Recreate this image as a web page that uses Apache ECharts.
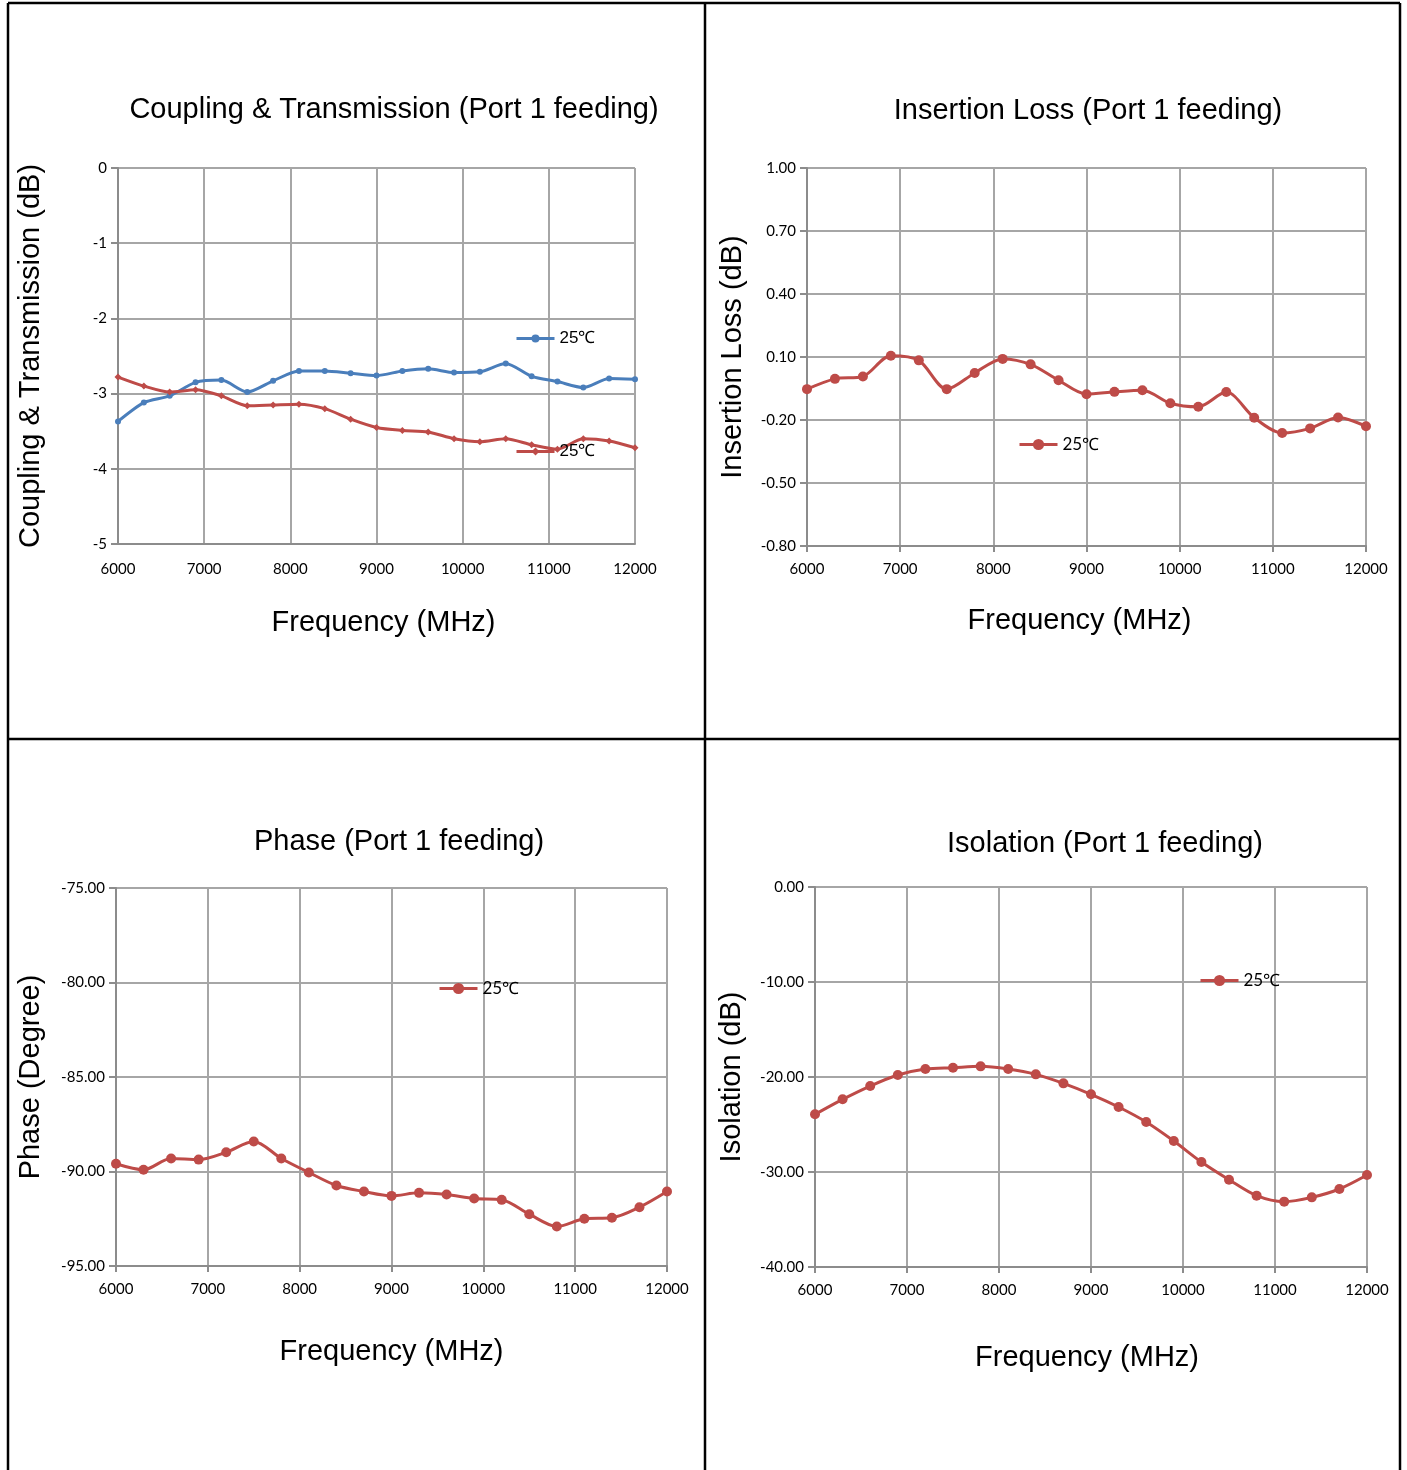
<!DOCTYPE html>
<html><head><meta charset="utf-8">
<script src="https://cdn.jsdelivr.net/npm/echarts@6/dist/echarts.min.js"></script>
<style>html,body{margin:0;padding:0;background:#fff}#c{width:1407px;height:1470px}</style>
</head><body><div id="c"></div>
<script>
const freq = [6000,6300,6600,6900,7200,7500,7800,8100,8400,8700,9000,9300,9600,9900,10200,10500,10800,11100,11400,11700,12000];
const coupling = [-3.37,-3.12,-3.03,-2.85,-2.82,-2.98,-2.83,-2.70,-2.70,-2.73,-2.76,-2.70,-2.67,-2.72,-2.71,-2.60,-2.77,-2.84,-2.92,-2.80,-2.81];
const transmission = [-2.78,-2.90,-2.98,-2.95,-3.03,-3.16,-3.15,-3.14,-3.20,-3.34,-3.45,-3.49,-3.51,-3.60,-3.64,-3.60,-3.68,-3.74,-3.60,-3.63,-3.72];
const insertionLoss = [-0.053,-0.004,0.007,0.106,0.084,-0.053,0.024,0.091,0.065,-0.011,-0.077,-0.066,-0.058,-0.120,-0.137,-0.067,-0.189,-0.262,-0.240,-0.188,-0.230];
const phase = [-89.59,-89.91,-89.31,-89.37,-88.98,-88.41,-89.31,-90.05,-90.74,-91.06,-91.29,-91.13,-91.22,-91.43,-91.50,-92.26,-92.91,-92.50,-92.45,-91.89,-91.06];
const isolation = [-23.93,-22.35,-20.95,-19.79,-19.16,-19.02,-18.88,-19.16,-19.72,-20.67,-21.82,-23.16,-24.74,-26.74,-28.95,-30.81,-32.49,-33.12,-32.67,-31.79,-30.32];

const titles = ['Coupling & Transmission (Port 1 feeding)','Insertion Loss (Port 1 feeding)','Phase (Port 1 feeding)','Isolation (Port 1 feeding)'];
const yNames = ['Coupling & Transmission (dB)','Insertion Loss (dB)','Phase (Degree)','Isolation (dB)'];
const xName = 'Frequency (MHz)';
const legendLabel = '25℃';

const BLUE = '#4A7EBB', RED = '#BE4B48';
const zip = a => freq.map((f,i)=>[f,a[i]]);

const grids = [
  {left:118, top:168, width:517, height:376},
  {left:807, top:168, width:559, height:378},
  {left:116, top:888, width:551, height:378},
  {left:815, top:887, width:552, height:380}
];
const yCfg = [
  {min:-5, max:0, interval:1, dec:0, gap:73},
  {min:-0.8, max:1.0, interval:0.3, dec:2, gap:60},
  {min:-95, max:-75, interval:5, dec:2, gap:71},
  {min:-40, max:0, interval:10, dec:2, gap:69}
];
const xGap = [64, 60, 71, 76];
const xNamePad = [[0,0,0,14],[0,14,0,0],[0,0,0,0],[0,8,0,0]];
const xLabelMargin = [18, 16, 16, 16];
const titlePos = [[389,90],[1083,91],[394,822],[1100,824]];

const tickFont = 'Lato, "Open Sans", sans-serif';
const axisFont = '"Liberation Sans", Arial, sans-serif';
const BIG = 29;

const xAxes = grids.map((g,i)=>({
  gridIndex:i, type:'value', min:6000, max:12000, interval:1000,
  name:xName, nameLocation:'middle', nameGap:xGap[i],
  nameTextStyle:{fontFamily:axisFont, fontSize:BIG, color:'#000', padding:xNamePad[i]},
  axisLine:{show:true, onZero:false, lineStyle:{color:'#8c8c8c', width:2}},
  axisTick:{show:i!==0, length:6, lineStyle:{color:'#8c8c8c', width:2}},
  axisLabel:{fontFamily:tickFont, fontSize:15, color:'#000', margin:xLabelMargin[i], formatter:v=>String(v)},
  splitLine:{show:true, lineStyle:{color:'#a6a6a6', width:2}}
}));
const yAxes = grids.map((g,i)=>({
  gridIndex:i, type:'value', min:yCfg[i].min, max:yCfg[i].max, interval:yCfg[i].interval,
  name:yNames[i], nameLocation:'middle', nameGap:yCfg[i].gap,
  nameTextStyle:{fontFamily:axisFont, fontSize:BIG, color:'#000'},
  axisLine:{show:true, onZero:false, lineStyle:{color:'#8c8c8c', width:2}},
  axisTick:{show:true, length:7, lineStyle:{color:'#8c8c8c', width:2}},
  axisLabel:{fontFamily:tickFont, fontSize:15, color:'#000', margin:11,
    formatter:v=>Number(v).toFixed(yCfg[i].dec)},
  splitLine:{show:true, lineStyle:{color:'#a6a6a6', width:2}}
}));

const mkSeries = (name, data, idx, color, symbol, size, smooth) => ({
  name, type:'line', xAxisIndex:idx, yAxisIndex:idx, data:zip(data),
  smooth, symbol, symbolSize:size, showSymbol:true,
  lineStyle:{color, width:3}, itemStyle:{color}
});

const series = [
  mkSeries(legendLabel, coupling, 0, BLUE, 'circle', 6, 0.25),
  mkSeries(legendLabel+'\u200b', transmission, 0, RED, 'diamond', 7, 0.25),
  mkSeries(legendLabel+'\u200b\u200b', insertionLoss, 1, RED, 'circle', 10, 0.3),
  mkSeries(legendLabel+'\u200b\u200b\u200b', phase, 2, RED, 'circle', 10, 0.3),
  mkSeries(legendLabel+'\u200b\u200b\u200b\u200b', isolation, 3, RED, 'circle', 10, 0.3)
];

const legendPos = [[515,330,axisFont,10],[515,443,axisFont,10],[1018,436,tickFont,14],[438,980,tickFont,14],[1199,972,tickFont,14]];
const legends = series.map((s,i)=>({
  data:[s.name], left:legendPos[i][0], top:legendPos[i][1],
  itemWidth:38, itemHeight:legendPos[i][3], itemGap:4, padding:0, selectedMode:false,
  lineStyle:{width:3},
  textStyle:{fontFamily:legendPos[i][2], fontSize:17, color:'#000'}
}));

const lineStyle = {stroke:'#000', lineWidth:2.5};
const graphic = [
  {type:'line', shape:{x1:8,y1:3,x2:1400,y2:3}, style:lineStyle},
  {type:'line', shape:{x1:8,y1:3,x2:8,y2:1470}, style:lineStyle},
  {type:'line', shape:{x1:1400,y1:3,x2:1400,y2:1470}, style:lineStyle},
  {type:'line', shape:{x1:705,y1:3,x2:705,y2:1470}, style:lineStyle},
  {type:'line', shape:{x1:8,y1:739,x2:1400,y2:739}, style:lineStyle}
];

const chart = echarts.init(document.getElementById('c'), null, {renderer:'canvas'});
chart.setOption({
  backgroundColor:'#fff',
  animation:false,
  title: titles.map((t,i)=>({text:t, left:titlePos[i][0], top:titlePos[i][1], textAlign:'center',
    textStyle:{fontFamily:axisFont, fontSize:BIG, fontWeight:'normal', color:'#000'}})),
  grid: grids,
  xAxis: xAxes,
  yAxis: yAxes,
  legend: legends,
  series,
  graphic
});
</script></body></html>
